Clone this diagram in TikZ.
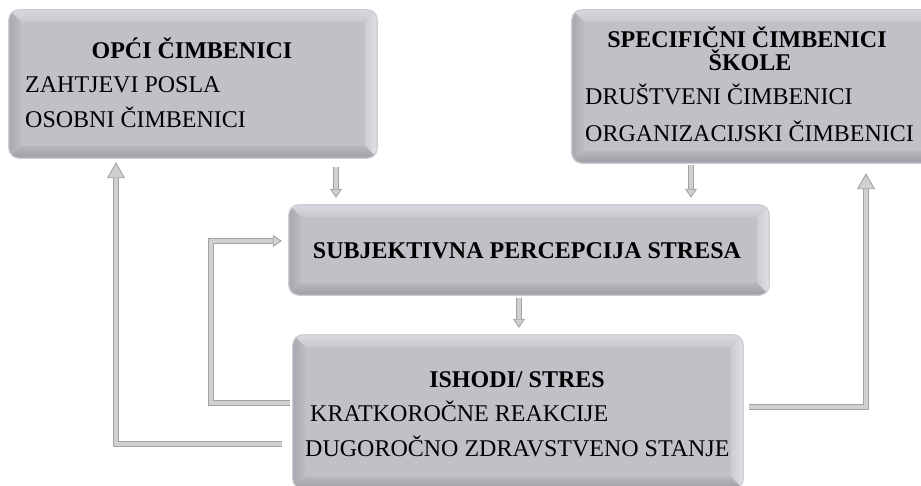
\documentclass[tikz,border=0pt]{standalone}
\usepackage{fontspec}
\setmainfont{Liberation Serif}
\usetikzlibrary{arrows.meta,calc}
\definecolor{boxmid}{RGB}{192,192,198}
\definecolor{bevtopA}{RGB}{216,216,222}
\definecolor{bevtopB}{RGB}{200,200,206}
\definecolor{bevleftA}{RGB}{168,168,174}
\definecolor{bevleftB}{RGB}{188,188,194}
\definecolor{bevrightA}{RGB}{204,204,211}
\definecolor{bevrightB}{RGB}{224,224,232}
\definecolor{bevbotA}{RGB}{182,182,188}
\definecolor{bevbotB}{RGB}{158,158,164}
\definecolor{boxline}{RGB}{204,204,210}
\definecolor{arredge}{RGB}{162,162,162}
\definecolor{arrfill}{RGB}{208,208,208}
\newcommand\bevelit[1]{%
  \begin{scope}
    \clip[rounded corners=10pt] (#1.south west) rectangle (#1.north east);
    \shade[top color=bevtopA, bottom color=bevtopB] (#1.north west) -- (#1.north east) -- ([shift={(-12pt,-12pt)}]#1.north east) -- ([shift={(12pt,-12pt)}]#1.north west) -- cycle;
    \shade[left color=bevleftA, right color=bevleftB] (#1.north west) -- ([shift={(12pt,-12pt)}]#1.north west) -- ([shift={(12pt,12pt)}]#1.south west) -- (#1.south west) -- cycle;
    \shade[left color=bevrightA, right color=bevrightB] (#1.north east) -- ([shift={(-12pt,-12pt)}]#1.north east) -- ([shift={(-12pt,12pt)}]#1.south east) -- (#1.south east) -- cycle;
    \shade[top color=bevbotA, bottom color=bevbotB] (#1.south west) -- ([shift={(12pt,12pt)}]#1.south west) -- ([shift={(-12pt,12pt)}]#1.south east) -- (#1.south east) -- cycle;
  \end{scope}
  \draw[boxline, line width=1.2pt, rounded corners=10pt] (#1.south west) rectangle (#1.north east);
}
\tikzset{
  box/.style={rectangle, rounded corners=10pt, fill=boxmid, draw=none, inner sep=0pt},
  titletext/.style={font=\fontsize{24}{28}\selectfont\bfseries, inner sep=0pt, anchor=base},
  bodytext/.style={font=\fontsize{24}{28}\selectfont, inner sep=0pt, anchor=base west},
  conn/.style={draw=arredge, line width=0.9pt, double=arrfill, double distance=4pt, line join=miter},
  bigtip/.style={-{Triangle[width=18pt,length=16pt,fill=arrfill,line width=0.9pt]}},
  smalltip/.style={-{Triangle[width=12pt,length=9pt,fill=arrfill,line width=0.9pt]}},
}
\begin{document}
\begin{tikzpicture}[x=1pt,y=1pt]
\useasboundingbox (0,0) rectangle (921,486);
\clip (0,0) rectangle (921,486);
\fill[white] (0,0) rectangle (921,486);

% boxes
\node[box, minimum width=368pt, minimum height=148pt] (b1) at (193,402) {};
\node[box, minimum width=370pt, minimum height=153pt] (b2) at (757,399.5) {};
\node[box, minimum width=480pt, minimum height=90pt] (b3) at (529,236) {};
\node[box, minimum width=450pt, minimum height=154pt] (b4) at (518,74) {};
\bevelit{b1}
\bevelit{b2}
\bevelit{b3}
\bevelit{b4}

% texts
\node[titletext] (t1) at (192,427) {OPĆI ČIMBENICI};
\node[bodytext] (t1a) at (25,393) {ZAHTJEVI POSLA};
\node[bodytext] (t1b) at (25,358) {OSOBNI ČIMBENICI};

\node[titletext] (t2) at (747,438) {SPECIFIČNI ČIMBENICI};
\node[titletext] (t2x) at (750,415) {ŠKOLE};
\node[bodytext] (t2a) at (585,381) {DRUŠTVENI ČIMBENICI};
\node[bodytext] (t2b) at (585,344) {ORGANIZACIJSKI ČIMBENICI};

\node[titletext] (t3) at (527,227) {SUBJEKTIVNA PERCEPCIJA STRESA};

\node[titletext] (t4) at (517,98) {ISHODI/ STRES};
\node[bodytext] (t4a) at (310,64) {KRATKOROČNE REAKCIJE};
\node[bodytext] (t4b) at (305,29) {DUGOROČNO ZDRAVSTVENO STANJE};

% connectors
\coordinate (k1) at (211,245);
\coordinate (k2) at (116,42);
\coordinate (k3) at (866,79);

\draw[conn,smalltip,shorten <=9pt,shorten >=7pt] ([xshift=143pt]b1.south) -- ([xshift=-193pt]b3.north);
\draw[conn,smalltip,shorten <=2pt,shorten >=7pt] ([xshift=-66pt]b2.south) -- ([xshift=162pt]b3.north);
\draw[conn,smalltip,shorten <=3pt,shorten >=7pt] ([xshift=-10pt]b3.south) -- ([xshift=1pt]b4.north);
\draw[conn,smalltip,shorten <=3pt,shorten >=7pt] ([yshift=9pt]b4.west) -| (k1) -- ([yshift=9pt]b3.west);
\draw[conn,bigtip,shorten <=11pt,shorten >=4pt] ([yshift=-32pt]b4.west) -- (k2) -- ([xshift=-77pt]b1.south);
\draw[conn,bigtip,shorten <=6pt,shorten >=10pt] ([yshift=5pt]b4.east) -- (k3) -- ([xshift=109pt]b2.south);
\end{tikzpicture}
\end{document}
